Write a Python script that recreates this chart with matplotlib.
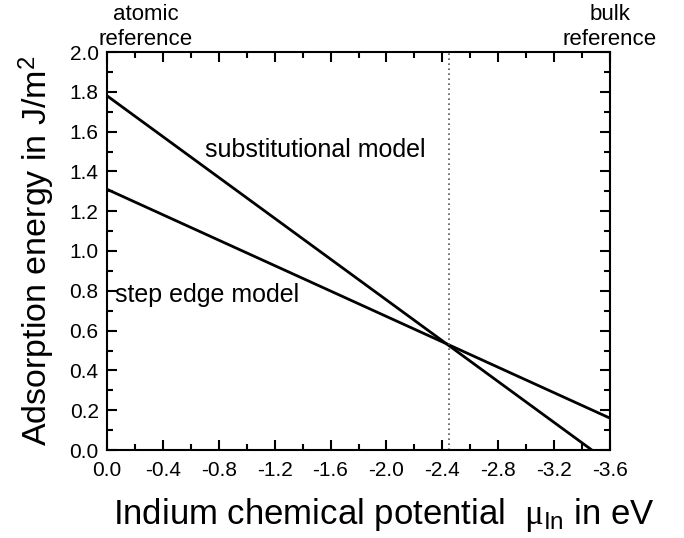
import matplotlib
matplotlib.use("Agg")
import matplotlib.pyplot as plt
from matplotlib.ticker import MultipleLocator

plt.rcParams["font.family"] = ["Liberation Sans", "DejaVu Sans"]
plt.rcParams["mathtext.fontset"] = "custom"
plt.rcParams["mathtext.rm"] = "Liberation Sans"
plt.rcParams["mathtext.it"] = "Liberation Serif"

# line end points
subst_x = [0.0, -3.47]
subst_y = [1.78, 0.0]
step_x = [0.0, -3.6]
step_y = [1.31, 0.16]
mu_cross = -2.45

fig = plt.figure(figsize=(6.84, 5.38), dpi=100)
ax = fig.add_axes([107 / 684, 1 - 450 / 538, 503 / 684, 398 / 538])

ax.plot(subst_x, subst_y, color="black", lw=2)
ax.plot(step_x, step_y, color="black", lw=2)
ax.plot([mu_cross, mu_cross], [0.0, 2.0], color="#555555", lw=1.2, ls=(0, (1, 2)))

ax.set_xlim(0, -3.6)
ax.set_ylim(0, 2.0)
ax.xaxis.set_major_locator(MultipleLocator(0.4))
ax.xaxis.set_minor_locator(MultipleLocator(0.2))
ax.yaxis.set_major_locator(MultipleLocator(0.2))
ax.yaxis.set_minor_locator(MultipleLocator(0.1))
ax.xaxis.set_major_formatter(lambda v, p: f"{v:.1f}" if abs(v) > 1e-9 else "0.0")
ax.yaxis.set_major_formatter(lambda v, p: f"{v:.1f}")
ax.tick_params(which="both", direction="in", top=True, right=True, width=1.5, labelsize=15)
ax.tick_params(which="major", length=7)
ax.tick_params(which="minor", length=4)
ax.tick_params(axis="x", pad=8)
ax.tick_params(axis="y", pad=6)
for s in ax.spines.values():
    s.set_linewidth(1.5)

ax.text(-0.70, 1.51, "substitutional model", fontsize=18, va="center")
ax.text(-0.057, 0.78, "step edge model", fontsize=18, va="center")

ax.text(0.077, 1.005, "atomic\nreference", transform=ax.transAxes, fontsize=16,
        ha="center", va="bottom", linespacing=1.25)
ax.text(1.0, 1.005, "bulk\nreference", transform=ax.transAxes, fontsize=16,
        ha="center", va="bottom", linespacing=1.25)

ax.set_ylabel("Adsorption energy in J/m$^2$", fontsize=24.5)
ax.yaxis.set_label_coords(-0.10, 0.5)
ax.set_xlabel("Indium chemical potential  $\\mu_{\\mathrm{In}}$ in eV", fontsize=25)
ax.xaxis.set_label_coords(0.55, -0.115)

fig.savefig("out.png", dpi=100)
